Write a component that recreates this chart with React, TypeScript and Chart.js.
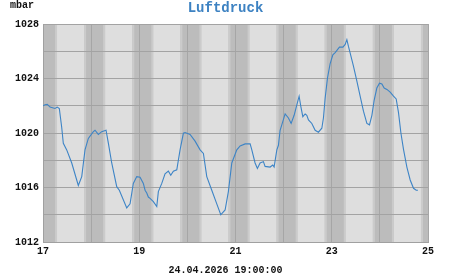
import React, { useEffect, useRef } from "react";
import { Chart, registerables } from "chart.js";

Chart.register(...registerables);

// x = day of month (fractional), y = pressure in mbar
const days: number[] = [
  17.0, 17.042, 17.089, 17.146, 17.249, 17.297, 17.339, 17.389, 17.422, 17.493, 17.597, 17.734,
  17.805, 17.873, 17.942, 18.046, 18.081, 18.15, 18.22, 18.31, 18.358, 18.428, 18.532, 18.586,
  18.74, 18.809, 18.877, 18.948, 19.017, 19.085, 19.121, 19.156, 19.189, 19.225, 19.293, 19.364,
  19.397, 19.468, 19.536, 19.605, 19.655, 19.709, 19.78, 19.848, 19.917, 19.952, 20.056, 20.16,
  20.264, 20.333, 20.403, 20.507, 20.611, 20.694, 20.784, 20.852, 20.923, 21.027, 21.096, 21.2,
  21.304, 21.339, 21.407, 21.455, 21.511, 21.58, 21.615, 21.719, 21.775, 21.802, 21.859, 21.892,
  21.927, 21.962, 22.031, 22.1, 22.156, 22.218, 22.274, 22.322, 22.358, 22.399, 22.447, 22.482,
  22.516, 22.586, 22.655, 22.723, 22.794, 22.827, 22.863, 22.911, 22.967, 23.023, 23.071, 23.16,
  23.231, 23.279, 23.314, 23.347, 23.383, 23.451, 23.522, 23.59, 23.659, 23.73, 23.784, 23.834,
  23.881, 23.937, 23.992, 24.042, 24.089, 24.146, 24.214, 24.283, 24.339, 24.387, 24.437, 24.491,
  24.561, 24.63, 24.699, 24.755, 24.79,
];
const pressure: number[] = [
  1022.0, 1022.07, 1022.1, 1021.9, 1021.8, 1021.9, 1021.8, 1020.4, 1019.25, 1018.76, 1017.8, 1016.15,
  1016.8, 1018.76, 1019.6, 1020.1, 1020.2, 1019.9, 1020.1, 1020.2, 1019.25, 1017.8, 1016.06, 1015.8,
  1014.5, 1014.8, 1016.3, 1016.8, 1016.75, 1016.3, 1015.8, 1015.6, 1015.3, 1015.2, 1014.96, 1014.6,
  1015.7, 1016.3, 1017.0, 1017.2, 1016.9, 1017.2, 1017.3, 1018.76, 1019.98, 1020.03, 1019.9, 1019.4,
  1018.76, 1018.5, 1016.8, 1015.8, 1014.8, 1014.0, 1014.35, 1015.7, 1017.8, 1018.76, 1019.05, 1019.2,
  1019.2, 1018.76, 1017.8, 1017.4, 1017.8, 1017.9, 1017.55, 1017.5, 1017.65, 1017.5, 1018.76, 1019.1,
  1020.2, 1020.6, 1021.4, 1021.1, 1020.7, 1021.3, 1022.07, 1022.7, 1021.94, 1021.2, 1021.4, 1021.3,
  1020.96, 1020.7, 1020.2, 1020.06, 1020.35, 1021.1, 1022.56, 1024.03, 1025.1, 1025.74, 1025.9, 1026.3,
  1026.3, 1026.5, 1026.85, 1026.35, 1025.87, 1024.9, 1023.8, 1022.7, 1021.6, 1020.7, 1020.6, 1021.3,
  1022.4, 1023.3, 1023.66, 1023.6, 1023.3, 1023.2, 1023.0, 1022.7, 1022.5, 1021.5, 1020.0, 1018.8,
  1017.5, 1016.55, 1015.94, 1015.8, 1015.8,
];

const xTickLabels: number[] = [17, 19, 21, 23, 25];
const yTickLabels: number[] = [1012, 1016, 1020, 1024, 1028];

// daylight phases (hours of the day)
const dawnStart = 6.0;
const dayStart = 7.0;
const duskStart = 20.5;
const nightStart = 21.5;

const titleText = "Luftdruck";
const unitText = "mbar";
const timestampText = "24.04.2026 19:00:00";

const MONO = "'Liberation Mono', 'DejaVu Sans Mono', monospace";

export default function App() {
  const ref = useRef<HTMLCanvasElement | null>(null);

  useEffect(() => {
    if (!ref.current) return;

    const bandsPlugin = {
      id: "bands",
      beforeDraw(chart: any) {
        const { ctx, chartArea: a, scales } = chart;
        const x = scales.x;
        ctx.save();
        ctx.fillStyle = "#bcbcbc";
        ctx.fillRect(a.left, a.top, a.right - a.left, a.bottom - a.top);
        const fill = (d0: number, d1: number, color: string) => {
          const p0 = Math.max(a.left, x.getPixelForValue(d0));
          const p1 = Math.min(a.right, x.getPixelForValue(d1));
          if (p1 <= p0) return;
          ctx.fillStyle = color;
          ctx.fillRect(p0, a.top, p1 - p0, a.bottom - a.top);
        };
        for (let d = Math.floor(x.min); d < x.max; d++) {
          fill(d + dawnStart / 24, d + dayStart / 24, "#cbcbcb");
          fill(d + dayStart / 24, d + duskStart / 24, "#dedede");
          fill(d + duskStart / 24, d + nightStart / 24, "#cbcbcb");
        }
        ctx.restore();
      },
      afterDraw(chart: any) {
        const { ctx, width } = chart;
        ctx.save();
        ctx.textAlign = "center";
        ctx.textBaseline = "middle";
        ctx.fillStyle = "#3d82c2";
        ctx.font = `bold 14px ${MONO}`;
        ctx.fillText(titleText, width / 2, 8);
        ctx.fillStyle = "#111111";
        ctx.font = `bold 10px ${MONO}`;
        ctx.textAlign = "left";
        ctx.fillText(unitText, 10, 5);
        ctx.textAlign = "center";
        ctx.fillText(timestampText, width / 2, 270);
        ctx.restore();
      },
    };

    const chart = new Chart(ref.current, {
      type: "line",
      data: {
        datasets: [
          {
            data: days.map((d, i) => ({ x: d, y: pressure[i] })),
            borderColor: "#3d84c6",
            borderWidth: 1.1,
            pointRadius: 0,
            tension: 0,
            fill: false,
          },
        ],
      },
      options: {
        animation: false,
        responsive: false,
        events: [],
        layout: { padding: { top: 24, right: 23, bottom: 0, left: 0 } },
        plugins: {
          legend: { display: false },
          title: { display: false },
          tooltip: { enabled: false },
        },
        scales: {
          x: {
            type: "linear",
            min: 17,
            max: 25,
            afterFit: (s: any) => {
              s.height = 33;
            },
            grid: { color: "#a6a6a6", lineWidth: 1, drawTicks: false },
            border: { display: true, color: "#a0a0a0" },
            ticks: {
              stepSize: 1,
              autoSkip: false,
              maxRotation: 0,
              padding: 3,
              color: "#111111",
              font: { family: MONO, size: 10, weight: "bold" },
              callback: (v: any) => (xTickLabels.includes(Number(v)) ? String(v) : ""),
            },
          },
          y: {
            min: 1012,
            max: 1028,
            afterFit: (s: any) => {
              s.width = 43;
            },
            grid: { color: "#a3a3a3", lineWidth: 1, drawTicks: false },
            border: { display: true, color: "#a0a0a0" },
            ticks: {
              stepSize: 2,
              autoSkip: false,
              padding: 4,
              color: "#111111",
              font: { family: MONO, size: 10, weight: "bold" },
              callback: (v: any) => (yTickLabels.includes(Number(v)) ? String(v) : ""),
            },
          },
        },
      },
      plugins: [bandsPlugin],
    });

    return () => chart.destroy();
  }, []);

  return (
    <div style={{ position: "absolute", left: 0, top: 0, width: 451, height: 275, background: "#ffffff" }}>
      <canvas ref={ref} width={451} height={275} style={{ display: "block" }} />
    </div>
  );
}
